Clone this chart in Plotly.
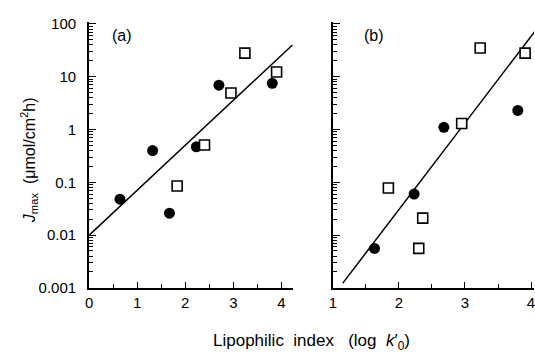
import plotly.graph_objects as go

# Panel (a)
a_circ_x = [0.64, 1.32, 1.67, 2.23, 2.70, 3.81]
a_circ_y = [0.048, 0.40, 0.026, 0.47, 6.9, 7.5]
a_sq_x = [1.83, 2.40, 2.95, 3.24, 3.90]
a_sq_y = [0.085, 0.51, 4.9, 28, 12.3]
a_line_x = [0.0, 4.23]
a_line_y = [0.01, 40]

# Panel (b)
b_circ_x = [1.63, 2.23, 2.68, 3.80]
b_circ_y = [0.0056, 0.060, 1.1, 2.3]
b_sq_x = [1.84, 2.30, 2.36, 2.95, 3.23, 3.91]
b_sq_y = [0.078, 0.0056, 0.021, 1.3, 35, 28]
b_line_x = [1.15, 4.10]
b_line_y = [10 ** -2.91, 10 ** 1.93]

FONT = "Liberation Sans, Arial, sans-serif"
TC = "black"
circ = dict(symbol="circle", size=11, color="black", line=dict(width=0))
sq = dict(symbol="square", size=10, color="white", line=dict(color="black", width=1.6))
ln = dict(color="black", width=1.5)

fig = go.Figure()
fig.add_trace(go.Scatter(x=a_line_x, y=a_line_y, mode="lines", line=ln, xaxis="x", yaxis="y"))
fig.add_trace(go.Scatter(x=a_circ_x, y=a_circ_y, mode="markers", marker=circ, xaxis="x", yaxis="y"))
fig.add_trace(go.Scatter(x=a_sq_x, y=a_sq_y, mode="markers", marker=sq, xaxis="x", yaxis="y"))
fig.add_trace(go.Scatter(x=b_line_x, y=b_line_y, mode="lines", line=ln, xaxis="x2", yaxis="y2"))
fig.add_trace(go.Scatter(x=b_circ_x, y=b_circ_y, mode="markers", marker=circ, xaxis="x2", yaxis="y2"))
fig.add_trace(go.Scatter(x=b_sq_x, y=b_sq_y, mode="markers", marker=sq, xaxis="x2", yaxis="y2"))

yax = dict(type="log", range=[-3, 2.03], dtick=1, showline=True, linecolor="black", linewidth=1.5,
           ticks="inside", ticklen=7, tickwidth=1.3, tickcolor=TC,
           minor=dict(ticks="inside", ticklen=4, tickwidth=1, tickcolor=TC),
           showgrid=False, zeroline=False, domain=[70 / 363, 1 - 16 / 363])

xmin = dict(dtick=0.5, ticks="inside", ticklen=4, tickwidth=1, tickcolor=TC)

fig.update_layout(
    width=535, height=363, margin=dict(l=0, r=0, t=0, b=0),
    paper_bgcolor="white", plot_bgcolor="white", showlegend=False,
    font=dict(family=FONT, size=15, color="black"),
    xaxis=dict(domain=[86 / 535, 292 / 535], range=[0, 4.247], showline=True, linecolor="black", linewidth=1.5,
               tick0=0, dtick=1, ticks="inside", ticklen=6, tickwidth=1.3, tickcolor=TC,
               minor=xmin, showgrid=False, zeroline=False, anchor="y",
               tickfont=dict(size=15)),
    yaxis=dict(yax, anchor="x", tickfont=dict(size=15), ticksuffix="  "),
    xaxis2=dict(domain=[332 / 535, 1.0], range=[1, 4.045], showline=True, linecolor="black", linewidth=1.5,
                tick0=0, dtick=1, ticks="inside", ticklen=6, tickwidth=1.3, tickcolor=TC,
                minor=xmin, showgrid=False, zeroline=False, anchor="y2",
                tickfont=dict(size=15), ticklabeloverflow="allow"),
    yaxis2=dict(yax, anchor="x2", showticklabels=False),
)

fig.add_annotation(text="(a)", xref="paper", yref="paper", x=107 / 535, y=1 - 30 / 363,
                   xanchor="left", yanchor="middle", showarrow=False, font=dict(size=16))
fig.add_annotation(text="(b)", xref="paper", yref="paper", x=361 / 535, y=1 - 30 / 363,
                   xanchor="left", yanchor="middle", showarrow=False, font=dict(size=16))
fig.add_annotation(text="<i>J</i><sub>max</sub>  (μmol/cm<sup>2</sup>h)", xref="paper", yref="paper",
                   x=26 / 535, y=1 - 160 / 363, textangle=-90, xanchor="center", yanchor="middle",
                   showarrow=False, font=dict(size=16))
fig.add_annotation(text="Lipophilic  index   (log  <i>k</i>′<sub>0</sub>)", xref="paper", yref="paper",
                   x=310 / 535, y=1 - 349 / 363, xanchor="center", yanchor="middle",
                   showarrow=False, font=dict(size=17))

fig.write_html("out.html")
